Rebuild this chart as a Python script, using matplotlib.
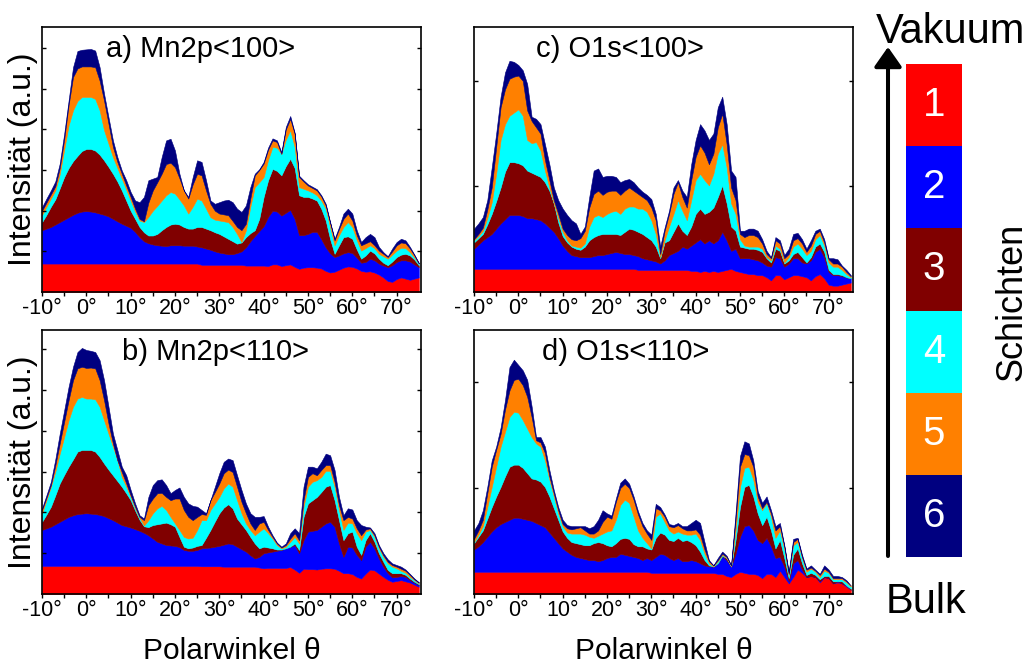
import numpy as np
import matplotlib
matplotlib.use("Agg")
import matplotlib.pyplot as plt
from matplotlib.patches import FancyArrowPatch

plt.rcParams["font.family"] = ["Liberation Sans", "DejaVu Sans"]

# polar angle grid (deg), one value per degree
theta = np.arange(-10, 76)

layer_names = ["1", "2", "3", "4", "5", "6"]
layer_colors = ["#ff0000", "#0000ff", "#800000", "#00ffff", "#ff8000", "#000080"]
x_ticks = [-10, 0, 10, 20, 30, 40, 50, 60, 70]
x_tick_labels = ["-10°", "0°", "10°", "20°", "30°", "40°", "50°", "60°", "70°"]
x_minor = [-5, 5, 15, 25, 35, 45, 55, 65]

# ---- a) Mn2p<100>: cumulative upper edge of layers 1..6 ----
mn100_1 = [0.70, 0.70, 0.70, 0.70, 0.70, 0.70, 0.70, 0.70, 0.70, 0.70,
           0.70, 0.70, 0.70, 0.70, 0.70, 0.70, 0.70, 0.70, 0.70, 0.70,
           0.70, 0.70, 0.70, 0.70, 0.70, 0.70, 0.70, 0.70, 0.70, 0.70,
           0.70, 0.70, 0.70, 0.70, 0.70, 0.70, 0.67, 0.67, 0.67, 0.67,
           0.67, 0.67, 0.67, 0.67, 0.67, 0.67, 0.65, 0.65, 0.65, 0.65,
           0.65, 0.64, 0.68, 0.68, 0.64, 0.66, 0.68, 0.62, 0.57, 0.60,
           0.61, 0.61, 0.60, 0.58, 0.52, 0.48, 0.50, 0.55, 0.60, 0.63,
           0.62, 0.58, 0.52, 0.50, 0.51, 0.48, 0.43, 0.36, 0.27, 0.25,
           0.32, 0.36, 0.33, 0.30, 0.33, 0.36]
mn100_2 = [1.52, 1.56, 1.60, 1.66, 1.72, 1.78, 1.84, 1.90, 1.95, 1.98,
           1.99, 1.98, 1.96, 1.93, 1.90, 1.86, 1.80, 1.74, 1.68, 1.63,
           1.58, 1.48, 1.35, 1.25, 1.20, 1.17, 1.15, 1.14, 1.13, 1.15,
           1.15, 1.15, 1.14, 1.14, 1.14, 1.12, 1.10, 1.07, 1.04, 1.00,
           0.97, 0.95, 0.93, 0.93, 0.96, 1.00, 1.10, 1.25, 1.38, 1.50,
           1.62, 1.85, 2.00, 1.98, 1.88, 1.95, 2.02, 1.80, 1.40, 1.40,
           1.43, 1.48, 1.48, 1.30, 1.10, 0.95, 0.86, 0.90, 0.95, 0.98,
           0.96, 0.85, 0.72, 0.74, 0.82, 0.78, 0.70, 0.65, 0.61, 0.66,
           0.74, 0.78, 0.78, 0.75, 0.68, 0.61]
mn100_3 = [1.72, 1.90, 2.10, 2.28, 2.55, 2.83, 3.05, 3.22, 3.35, 3.47,
           3.52, 3.52, 3.48, 3.38, 3.24, 3.08, 2.91, 2.72, 2.50, 2.25,
           2.00, 1.80, 1.60, 1.47, 1.39, 1.39, 1.43, 1.52, 1.60, 1.66,
           1.68, 1.66, 1.60, 1.56, 1.56, 1.60, 1.60, 1.56, 1.52, 1.47,
           1.43, 1.37, 1.31, 1.25, 1.19, 1.22, 1.35, 1.45, 1.52, 1.80,
           2.34, 2.75, 3.03, 2.98, 2.87, 3.10, 3.28, 3.05, 2.38, 2.34,
           2.34, 2.30, 2.25, 2.05, 1.76, 1.30, 0.94, 1.15, 1.35, 1.37,
           1.31, 1.05, 0.82, 0.90, 1.02, 0.95, 0.82, 0.72, 0.66, 0.75,
           0.86, 0.92, 0.94, 0.90, 0.80, 0.66]
mn100_4 = [1.89, 2.10, 2.30, 2.50, 2.90, 3.50, 4.10, 4.47, 4.70, 4.80,
           4.80, 4.80, 4.75, 4.47, 3.98, 3.65, 3.32, 3.05, 2.79, 2.52,
           2.25, 1.98, 1.76, 1.72, 1.85, 2.00, 2.12, 2.25, 2.38, 2.46,
           2.42, 2.28, 2.13, 1.93, 2.10, 2.30, 2.25, 2.05, 1.84, 1.78,
           1.76, 1.74, 1.72, 1.60, 1.43, 1.23, 1.52, 2.10, 2.58, 2.70,
           2.83, 3.25, 3.57, 3.55, 3.40, 3.75, 3.98, 3.57, 2.58, 2.54,
           2.50, 2.45, 2.38, 2.25, 2.05, 1.60, 1.15, 1.40, 1.60, 1.72,
           1.60, 1.28, 1.02, 1.08, 1.15, 1.08, 0.94, 0.88, 0.82, 0.92,
           1.02, 1.09, 1.08, 0.98, 0.85, 0.70]
mn100_5 = [2.00, 2.20, 2.40, 2.60, 3.05, 3.75, 4.60, 5.29, 5.50, 5.55,
           5.55, 5.55, 5.53, 5.20, 4.71, 4.14, 3.57, 3.20, 2.91, 2.62,
           2.34, 2.05, 1.80, 1.74, 2.20, 2.50, 2.70, 2.91, 3.15, 3.18,
           3.07, 2.80, 2.50, 2.30, 2.65, 2.91, 2.87, 2.50, 2.17, 2.00,
           1.93, 1.91, 1.89, 1.75, 1.60, 1.52, 1.68, 2.30, 2.87, 3.00,
           3.16, 3.50, 3.73, 3.69, 3.40, 4.00, 4.26, 3.89, 2.83, 2.72,
           2.62, 2.56, 2.50, 2.35, 2.13, 1.70, 1.27, 1.55, 1.80, 1.93,
           1.76, 1.40, 1.15, 1.20, 1.25, 1.15, 1.02, 0.94, 0.86, 1.00,
           1.15, 1.22, 1.20, 1.07, 0.90, 0.70]
mn100_6 = [2.09, 2.30, 2.50, 2.72, 3.16, 3.89, 4.71, 5.53, 5.93, 5.96,
           5.97, 5.98, 5.94, 5.53, 4.88, 4.30, 3.73, 3.32, 2.99, 2.75,
           2.46, 2.25, 2.21, 2.34, 2.75, 2.79, 2.83, 3.32, 3.73, 3.77,
           3.48, 2.91, 2.50, 2.34, 2.83, 3.24, 3.20, 2.75, 2.25, 2.17,
           2.21, 2.25, 2.27, 2.21, 2.05, 1.97, 2.13, 2.58, 2.91, 3.02,
           3.20, 3.55, 3.78, 3.73, 3.44, 4.06, 4.33, 3.92, 2.86, 2.75,
           2.65, 2.59, 2.53, 2.38, 2.17, 1.72, 1.31, 1.60, 1.93, 2.05,
           1.93, 1.52, 1.23, 1.35, 1.43, 1.35, 1.11, 0.98, 0.88, 1.07,
           1.23, 1.31, 1.27, 1.11, 0.92, 0.72]

# ---- b) Mn2p<110> ----
mn110_1 = [0.69, 0.69, 0.69, 0.69, 0.69, 0.69, 0.69, 0.69, 0.69, 0.69,
           0.69, 0.69, 0.69, 0.69, 0.69, 0.69, 0.69, 0.69, 0.69, 0.69,
           0.69, 0.69, 0.69, 0.69, 0.69, 0.69, 0.69, 0.69, 0.69, 0.69,
           0.69, 0.69, 0.69, 0.69, 0.69, 0.69, 0.68, 0.68, 0.68, 0.68,
           0.68, 0.67, 0.67, 0.67, 0.67, 0.67, 0.67, 0.67, 0.67, 0.65,
           0.63, 0.64, 0.64, 0.64, 0.64, 0.64, 0.66, 0.60, 0.52, 0.62,
           0.61, 0.61, 0.60, 0.62, 0.63, 0.63, 0.62, 0.57, 0.51, 0.51,
           0.49, 0.42, 0.38, 0.50, 0.60, 0.58, 0.50, 0.42, 0.35, 0.30,
           0.32, 0.34, 0.31, 0.28, 0.23, 0.18]
mn110_2 = [1.57, 1.61, 1.65, 1.71, 1.77, 1.83, 1.89, 1.93, 1.96, 1.97,
           1.98, 1.97, 1.96, 1.94, 1.91, 1.86, 1.81, 1.75, 1.69, 1.66,
           1.63, 1.59, 1.55, 1.50, 1.44, 1.36, 1.28, 1.24, 1.20, 1.19,
           1.18, 1.15, 1.08, 1.06, 1.06, 1.08, 1.12, 1.13, 1.14, 1.16,
           1.18, 1.21, 1.24, 1.22, 1.16, 1.10, 1.04, 0.95, 0.87, 0.91,
           1.00, 1.02, 1.04, 1.06, 1.08, 1.12, 1.16, 1.20, 1.00, 1.32,
           1.53, 1.55, 1.57, 1.65, 1.73, 1.77, 1.65, 1.24, 0.91, 1.16,
           1.14, 0.96, 0.83, 1.16, 1.28, 1.12, 0.87, 0.67, 0.51, 0.41,
           0.42, 0.44, 0.42, 0.34, 0.28, 0.22]
mn110_3 = [1.77, 1.95, 2.14, 2.42, 2.71, 2.92, 3.12, 3.30, 3.49, 3.53,
           3.53, 3.53, 3.49, 3.36, 3.20, 3.05, 2.91, 2.77, 2.63, 2.47,
           2.30, 2.05, 1.82, 1.66, 1.64, 1.69, 1.71, 1.73, 1.75, 1.71,
           1.65, 1.40, 1.16, 1.12, 1.14, 1.18, 1.20, 1.38, 1.57, 1.78,
           1.98, 2.12, 2.20, 2.10, 1.85, 1.71, 1.57, 1.40, 1.24, 1.12,
           1.16, 1.14, 1.12, 1.09, 1.09, 1.12, 1.16, 1.24, 1.08, 1.89,
           2.22, 2.30, 2.38, 2.50, 2.63, 2.67, 2.30, 1.81, 1.32, 1.49,
           1.53, 1.16, 0.96, 1.32, 1.49, 1.28, 1.00, 0.79, 0.59, 0.51,
           0.51, 0.51, 0.47, 0.38, 0.30, 0.24]
mn110_4 = [1.98, 2.30, 2.63, 3.00, 3.44, 3.85, 4.26, 4.59, 4.79, 4.83,
           4.79, 4.79, 4.77, 4.59, 4.26, 3.93, 3.61, 3.28, 2.87, 2.63,
           2.38, 2.10, 1.87, 1.68, 1.81, 1.98, 2.10, 2.16, 2.06, 1.89,
           1.73, 1.57, 1.40, 1.36, 1.38, 1.57, 1.81, 1.81, 2.06, 2.22,
           2.38, 2.59, 2.71, 2.63, 2.30, 1.98, 1.73, 1.57, 1.44, 1.53,
           1.61, 1.49, 1.36, 1.20, 1.12, 1.16, 1.28, 1.40, 1.24, 2.14,
           2.63, 2.75, 2.79, 2.87, 3.02, 3.02, 2.63, 2.06, 1.57, 1.75,
           1.73, 1.49, 1.32, 1.53, 1.57, 1.40, 1.12, 0.91, 0.75, 0.67,
           0.63, 0.57, 0.52, 0.42, 0.34, 0.26]
mn110_5 = [2.06, 2.36, 2.67, 3.15, 3.69, 4.22, 4.75, 5.24, 5.53, 5.57,
           5.54, 5.55, 5.53, 5.24, 4.75, 4.18, 3.69, 3.28, 2.99, 2.71,
           2.42, 2.14, 1.89, 1.81, 2.18, 2.34, 2.47, 2.48, 2.38, 2.30,
           2.34, 2.34, 2.06, 1.89, 1.81, 1.89, 1.96, 1.94, 2.30, 2.50,
           2.71, 2.96, 3.05, 2.99, 2.63, 2.26, 1.98, 1.73, 1.57, 1.73,
           1.77, 1.57, 1.40, 1.24, 1.14, 1.20, 1.36, 1.49, 1.32, 2.30,
           2.87, 2.96, 2.91, 3.04, 3.16, 3.16, 2.75, 2.18, 1.81, 1.89,
           1.85, 1.61, 1.44, 1.58, 1.61, 1.44, 1.16, 0.95, 0.79, 0.71,
           0.67, 0.62, 0.57, 0.47, 0.36, 0.28]
mn110_6 = [2.10, 2.42, 2.75, 3.30, 3.93, 4.50, 5.08, 5.57, 5.93, 6.03,
           5.98, 5.96, 5.93, 5.73, 5.24, 4.59, 3.93, 3.53, 3.12, 2.91,
           2.55, 2.22, 1.93, 1.85, 2.38, 2.67, 2.79, 2.81, 2.67, 2.47,
           2.55, 2.61, 2.38, 2.22, 2.16, 2.14, 2.06, 1.98, 2.30, 2.63,
           2.96, 3.24, 3.32, 3.28, 2.91, 2.55, 2.22, 1.98, 1.89, 1.89,
           1.91, 1.65, 1.44, 1.26, 1.16, 1.24, 1.49, 1.61, 1.49, 2.63,
           3.12, 3.12, 3.08, 3.24, 3.44, 3.40, 3.04, 2.38, 1.93, 2.10,
           2.07, 1.81, 1.69, 1.65, 1.63, 1.49, 1.20, 1.00, 0.85, 0.75,
           0.71, 0.67, 0.60, 0.49, 0.38, 0.29]

# ---- c) O1s<100> ----
o100_1 = [0.22, 0.22, 0.22, 0.22, 0.22, 0.22, 0.22, 0.22, 0.22, 0.22,
          0.22, 0.22, 0.22, 0.22, 0.22, 0.22, 0.22, 0.22, 0.22, 0.22,
          0.22, 0.22, 0.22, 0.22, 0.22, 0.22, 0.22, 0.22, 0.22, 0.22,
          0.22, 0.22, 0.22, 0.22, 0.22, 0.22, 0.22, 0.21, 0.21, 0.21,
          0.21, 0.21, 0.21, 0.21, 0.21, 0.21, 0.21, 0.21, 0.21, 0.20,
          0.20, 0.19, 0.20, 0.19, 0.20, 0.19, 0.20, 0.21, 0.22, 0.20,
          0.19, 0.18, 0.17, 0.17, 0.16, 0.16, 0.14, 0.11, 0.16, 0.16,
          0.12, 0.14, 0.16, 0.16, 0.15, 0.14, 0.11, 0.15, 0.17, 0.13,
          0.07, 0.06, 0.06, 0.07, 0.08, 0.09]
o100_2 = [0.41, 0.45, 0.49, 0.52, 0.55, 0.60, 0.65, 0.69, 0.73, 0.73,
          0.73, 0.72, 0.70, 0.70, 0.69, 0.68, 0.65, 0.61, 0.57, 0.51,
          0.44, 0.39, 0.35, 0.34, 0.33, 0.33, 0.33, 0.34, 0.35, 0.35,
          0.36, 0.37, 0.38, 0.37, 0.36, 0.36, 0.35, 0.34, 0.32, 0.31,
          0.30, 0.29, 0.27, 0.30, 0.35, 0.37, 0.39, 0.43, 0.41, 0.44,
          0.47, 0.50, 0.46, 0.49, 0.46, 0.49, 0.57, 0.49, 0.39, 0.41,
          0.32, 0.32, 0.32, 0.31, 0.30, 0.28, 0.25, 0.24, 0.33, 0.32,
          0.24, 0.27, 0.32, 0.32, 0.28, 0.27, 0.30, 0.38, 0.41, 0.33,
          0.19, 0.16, 0.16, 0.15, 0.14, 0.13]
o100_3 = [0.47, 0.51, 0.55, 0.64, 0.74, 0.86, 0.99, 1.14, 1.23, 1.23,
          1.22, 1.20, 1.15, 1.13, 1.11, 1.09, 1.04, 0.96, 0.84, 0.66,
          0.53, 0.47, 0.43, 0.41, 0.40, 0.43, 0.49, 0.52, 0.54, 0.55,
          0.55, 0.55, 0.55, 0.54, 0.57, 0.60, 0.59, 0.57, 0.55, 0.52,
          0.49, 0.43, 0.32, 0.47, 0.49, 0.57, 0.65, 0.58, 0.54, 0.62,
          0.74, 0.79, 0.74, 0.76, 0.80, 0.90, 1.01, 0.84, 0.62, 0.58,
          0.43, 0.42, 0.41, 0.41, 0.40, 0.38, 0.32, 0.28, 0.41, 0.39,
          0.27, 0.30, 0.36, 0.38, 0.33, 0.28, 0.33, 0.43, 0.46, 0.38,
          0.21, 0.17, 0.17, 0.16, 0.14, 0.13]
o100_4 = [0.49, 0.53, 0.58, 0.70, 0.85, 1.12, 1.44, 1.59, 1.67, 1.70,
          1.73, 1.67, 1.44, 1.41, 1.42, 1.34, 1.15, 0.99, 0.84, 0.70,
          0.57, 0.49, 0.44, 0.43, 0.42, 0.46, 0.62, 0.71, 0.73, 0.71,
          0.74, 0.76, 0.77, 0.74, 0.79, 0.81, 0.81, 0.79, 0.79, 0.76,
          0.68, 0.55, 0.33, 0.49, 0.62, 0.74, 0.87, 0.77, 0.68, 0.87,
          1.06, 1.12, 1.06, 1.01, 1.12, 1.31, 1.40, 1.18, 0.84, 0.74,
          0.50, 0.44, 0.43, 0.43, 0.43, 0.41, 0.33, 0.30, 0.44, 0.41,
          0.28, 0.33, 0.43, 0.46, 0.41, 0.35, 0.39, 0.50, 0.54, 0.44,
          0.28, 0.24, 0.24, 0.21, 0.17, 0.14]
o100_5 = [0.50, 0.55, 0.61, 0.78, 0.99, 1.37, 1.75, 1.92, 2.02, 2.04,
          2.05, 2.00, 1.72, 1.62, 1.56, 1.50, 1.25, 1.06, 0.87, 0.74,
          0.60, 0.54, 0.50, 0.49, 0.51, 0.58, 0.80, 0.93, 0.96, 0.92,
          0.95, 0.96, 0.96, 0.92, 0.96, 0.99, 0.96, 0.93, 0.90, 0.87,
          0.80, 0.68, 0.36, 0.58, 0.74, 0.93, 1.04, 0.90, 0.80, 1.06,
          1.28, 1.39, 1.32, 1.21, 1.31, 1.56, 1.69, 1.40, 0.99, 0.87,
          0.55, 0.52, 0.54, 0.54, 0.52, 0.46, 0.36, 0.32, 0.49, 0.46,
          0.32, 0.36, 0.49, 0.51, 0.46, 0.38, 0.44, 0.55, 0.58, 0.47,
          0.31, 0.27, 0.27, 0.24, 0.19, 0.15]
o100_6 = [0.60, 0.65, 0.71, 0.87, 1.18, 1.50, 1.85, 2.08, 2.19, 2.18,
          2.15, 2.10, 1.97, 1.66, 1.64, 1.59, 1.40, 1.21, 0.99, 0.87,
          0.79, 0.73, 0.68, 0.65, 0.55, 0.62, 0.90, 1.15, 1.17, 1.09,
          1.10, 1.10, 1.09, 1.04, 1.06, 1.07, 1.04, 0.99, 0.95, 0.92,
          0.88, 0.74, 0.43, 0.61, 0.77, 0.99, 1.06, 0.96, 0.90, 1.21,
          1.44, 1.59, 1.53, 1.44, 1.50, 1.75, 1.85, 1.59, 1.15, 1.09,
          0.58, 0.58, 0.60, 0.60, 0.58, 0.50, 0.39, 0.33, 0.52, 0.49,
          0.35, 0.41, 0.55, 0.56, 0.50, 0.41, 0.49, 0.58, 0.60, 0.50,
          0.32, 0.32, 0.31, 0.25, 0.21, 0.16]

# ---- d) O1s<110> ----
o110_1 = [0.21, 0.21, 0.21, 0.21, 0.21, 0.21, 0.21, 0.21, 0.21, 0.21,
          0.21, 0.21, 0.21, 0.21, 0.21, 0.21, 0.21, 0.21, 0.21, 0.21,
          0.21, 0.21, 0.21, 0.21, 0.21, 0.21, 0.21, 0.21, 0.21, 0.21,
          0.21, 0.21, 0.21, 0.21, 0.21, 0.21, 0.21, 0.21, 0.21, 0.21,
          0.20, 0.20, 0.20, 0.20, 0.20, 0.20, 0.20, 0.20, 0.20, 0.20,
          0.20, 0.20, 0.20, 0.20, 0.20, 0.19, 0.19, 0.17, 0.16, 0.19,
          0.21, 0.20, 0.19, 0.19, 0.18, 0.15, 0.19, 0.19, 0.16, 0.22,
          0.16, 0.10, 0.16, 0.23, 0.20, 0.16, 0.17, 0.16, 0.11, 0.16,
          0.15, 0.10, 0.11, 0.10, 0.07, 0.04]
o110_2 = [0.42, 0.45, 0.49, 0.54, 0.59, 0.63, 0.66, 0.68, 0.70, 0.72,
          0.72, 0.71, 0.70, 0.69, 0.67, 0.65, 0.63, 0.58, 0.53, 0.48,
          0.43, 0.40, 0.37, 0.35, 0.34, 0.33, 0.32, 0.32, 0.31, 0.32,
          0.34, 0.35, 0.35, 0.38, 0.37, 0.36, 0.35, 0.34, 0.32, 0.34,
          0.32, 0.35, 0.38, 0.37, 0.34, 0.32, 0.34, 0.31, 0.31, 0.32,
          0.31, 0.29, 0.27, 0.26, 0.26, 0.29, 0.36, 0.32, 0.26, 0.38,
          0.54, 0.64, 0.65, 0.60, 0.51, 0.48, 0.53, 0.45, 0.34, 0.35,
          0.26, 0.12, 0.29, 0.32, 0.23, 0.16, 0.16, 0.15, 0.12, 0.15,
          0.13, 0.10, 0.12, 0.10, 0.08, 0.04]
o110_3 = [0.48, 0.54, 0.60, 0.71, 0.82, 0.92, 1.01, 1.11, 1.20, 1.22,
          1.22, 1.19, 1.14, 1.09, 1.08, 1.06, 1.01, 0.92, 0.81, 0.70,
          0.59, 0.53, 0.49, 0.48, 0.47, 0.46, 0.46, 0.48, 0.49, 0.48,
          0.46, 0.45, 0.48, 0.52, 0.53, 0.52, 0.47, 0.45, 0.45, 0.43,
          0.42, 0.53, 0.58, 0.56, 0.51, 0.50, 0.53, 0.50, 0.51, 0.49,
          0.46, 0.40, 0.32, 0.27, 0.26, 0.29, 0.36, 0.34, 0.26, 0.51,
          0.82, 1.01, 1.03, 0.92, 0.76, 0.65, 0.73, 0.60, 0.43, 0.51,
          0.34, 0.15, 0.37, 0.43, 0.29, 0.18, 0.19, 0.17, 0.14, 0.16,
          0.15, 0.12, 0.12, 0.12, 0.08, 0.05]
o110_4 = [0.49, 0.56, 0.64, 0.82, 1.01, 1.20, 1.39, 1.53, 1.67, 1.72,
          1.71, 1.64, 1.56, 1.48, 1.42, 1.39, 1.26, 1.08, 0.92, 0.76,
          0.64, 0.58, 0.57, 0.57, 0.57, 0.56, 0.54, 0.53, 0.55, 0.57,
          0.59, 0.60, 0.70, 0.84, 0.89, 0.86, 0.73, 0.60, 0.53, 0.48,
          0.43, 0.73, 0.76, 0.68, 0.60, 0.57, 0.59, 0.57, 0.56, 0.56,
          0.57, 0.51, 0.38, 0.29, 0.26, 0.31, 0.37, 0.34, 0.26, 0.60,
          1.01, 1.19, 1.20, 1.08, 0.87, 0.79, 0.86, 0.73, 0.53, 0.60,
          0.42, 0.18, 0.46, 0.49, 0.34, 0.21, 0.23, 0.20, 0.16, 0.21,
          0.18, 0.14, 0.14, 0.14, 0.11, 0.07]
o110_5 = [0.52, 0.60, 0.70, 0.95, 1.20, 1.36, 1.51, 1.74, 1.92, 2.02,
          2.03, 1.97, 1.86, 1.67, 1.45, 1.43, 1.33, 1.11, 0.95, 0.79,
          0.66, 0.62, 0.61, 0.62, 0.63, 0.60, 0.57, 0.57, 0.60, 0.68,
          0.73, 0.71, 0.87, 1.00, 1.04, 1.00, 0.89, 0.75, 0.64, 0.57,
          0.51, 0.81, 0.79, 0.73, 0.64, 0.63, 0.65, 0.62, 0.60, 0.60,
          0.61, 0.56, 0.42, 0.31, 0.27, 0.32, 0.38, 0.35, 0.27, 0.70,
          1.20, 1.32, 1.31, 1.20, 0.92, 0.81, 0.87, 0.76, 0.60, 0.64,
          0.45, 0.19, 0.49, 0.52, 0.35, 0.23, 0.24, 0.21, 0.18, 0.23,
          0.19, 0.15, 0.15, 0.15, 0.12, 0.08]
o110_6 = [0.60, 0.67, 0.79, 1.01, 1.26, 1.39, 1.57, 1.83, 2.14, 2.21,
          2.16, 2.11, 2.02, 1.77, 1.48, 1.48, 1.39, 1.17, 0.98, 0.82,
          0.70, 0.65, 0.64, 0.64, 0.64, 0.64, 0.62, 0.64, 0.70, 0.79,
          0.76, 0.74, 0.90, 1.05, 1.09, 1.04, 0.92, 0.78, 0.67, 0.60,
          0.56, 0.85, 0.82, 0.75, 0.66, 0.65, 0.67, 0.64, 0.64, 0.67,
          0.70, 0.67, 0.49, 0.32, 0.27, 0.34, 0.40, 0.36, 0.27, 0.76,
          1.30, 1.44, 1.42, 1.26, 0.97, 0.86, 0.92, 0.79, 0.64, 0.67,
          0.46, 0.21, 0.52, 0.53, 0.37, 0.24, 0.26, 0.22, 0.19, 0.26,
          0.21, 0.17, 0.17, 0.16, 0.13, 0.08]

W, H = 1032, 668


def frac(left, top, right, bottom):
    # pixel box -> figure fraction [l, b, w, h]
    return [left / W, 1 - bottom / H, (right - left) / W, (bottom - top) / H]


def draw_panel(ax, edges, title, ymax, title_x):
    tops = np.array(edges)
    below = np.vstack([np.zeros(len(theta)), tops[:-1]])
    layers = np.clip(tops - below, 0, None)
    polys = ax.stackplot(theta, *layers, colors=layer_colors)
    for p, c in zip(polys, layer_colors):
        p.set_edgecolor(c)
        p.set_linewidth(0.4)
    ax.set_xlim(-10, 75.5)
    ax.set_ylim(0, ymax)
    ax.set_xticks(x_ticks)
    ax.set_xticklabels(x_tick_labels, fontsize=15.5)
    ax.set_xticks(x_minor, minor=True)
    ax.tick_params(axis="x", which="both", direction="out", length=3,
                   width=1, pad=1.5, top=False)
    ax.set_yticks(np.arange(1, int(ymax) + 1))
    ax.tick_params(axis="y", direction="in", length=3, width=1,
                   left=True, right=True, labelleft=False)
    for s in ax.spines.values():
        s.set_linewidth(1.2)
    ax.text(title_x, 0.885, title, transform=ax.transAxes, fontsize=21,
            ha="left", va="baseline")


fig = plt.figure(figsize=(10.32, 6.68), dpi=100)

ax_a = fig.add_axes(frac(42, 27, 421, 292))
ax_c = fig.add_axes(frac(474, 27, 853, 292))
ax_b = fig.add_axes(frac(42, 330, 421, 594))
ax_d = fig.add_axes(frac(474, 330, 853, 594))

draw_panel(ax_a, [mn100_1, mn100_2, mn100_3, mn100_4, mn100_5, mn100_6],
           "a) Mn2p<100>", 6.52, 0.169)
draw_panel(ax_b, [mn110_1, mn110_2, mn110_3, mn110_4, mn110_5, mn110_6],
           "b) Mn2p<110>", 6.47, 0.211)
draw_panel(ax_c, [o100_1, o100_2, o100_3, o100_4, o100_5, o100_6],
           "c) O1s<100>", 2.51, 0.164)
draw_panel(ax_d, [o110_1, o110_2, o110_3, o110_4, o110_5, o110_6],
           "d) O1s<110>", 2.49, 0.179)

for ax in (ax_a, ax_b):
    ax.set_ylabel("Intensität (a.u.)", fontsize=23, labelpad=3)
for ax in (ax_b, ax_d):
    ax.set_xlabel("Polarwinkel θ", fontsize=21.5, labelpad=11)

# layer legend bar on the right
lax = fig.add_axes(frac(906, 64, 962, 557))
n = len(layer_names)
for i, (name, c) in enumerate(zip(layer_names, layer_colors)):
    lax.bar(0, 1, bottom=n - 1 - i, width=1, color=c)
    lax.text(0, n - 0.5 - i, name, ha="center", va="center",
             color="white", fontsize=29)
lax.set_xlim(-0.5, 0.5)
lax.set_ylim(0, n)
lax.axis("off")

arrow = FancyArrowPatch((888 / W, 1 - 556 / H), (888 / W, 1 - 47 / H),
                        transform=fig.transFigure,
                        arrowstyle="-|>,head_length=0.6,head_width=0.42",
                        mutation_scale=20, lw=2.9, color="black",
                        shrinkA=0, shrinkB=0)
fig.add_artist(arrow)

fig.text(951 / W, 1 - 43 / H, "Vakuum", ha="center", va="baseline", fontsize=30)
fig.text(886 / W, 1 - 613 / H, "Bulk", ha="left", va="baseline", fontsize=30)
fig.text(1012 / W, 1 - 302 / H, "Schichten", ha="center", va="center",
         rotation=90, fontsize=26)

fig.savefig("out.png", dpi=100)
